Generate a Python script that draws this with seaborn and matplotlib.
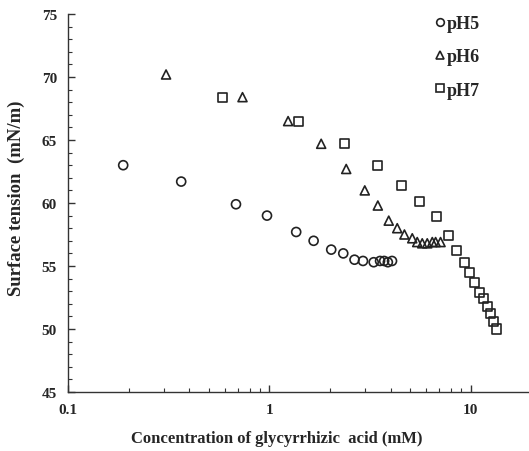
import numpy as np
import pandas as pd
import matplotlib
matplotlib.use("Agg")
import matplotlib.pyplot as plt
import seaborn as sns
from matplotlib.ticker import FixedLocator, FixedFormatter, LogLocator, NullFormatter, MultipleLocator

# ---- data ----
series_labels = ["pH5", "pH6", "pH7"]

ph5_x = [0.188, 0.365, 0.683, 0.974, 1.36, 1.66, 2.03, 2.33, 2.65, 2.92, 3.30, 3.55, 3.72, 3.88, 4.07]
ph5_y = [63.0, 61.7, 59.9, 59.0, 57.7, 57.0, 56.3, 56.0, 55.5, 55.4, 55.3, 55.4, 55.4, 55.3, 55.4]

ph6_x = [0.307, 0.736, 1.24, 1.81, 2.41, 2.98, 3.46, 3.92, 4.32, 4.69, 5.13, 5.43, 5.75, 6.09, 6.45, 6.70, 7.09]
ph6_y = [70.2, 68.4, 66.5, 64.7, 62.7, 61.0, 59.8, 58.6, 58.0, 57.5, 57.2, 56.9, 56.8, 56.8, 56.9, 56.9, 56.9]

ph7_x = [0.586, 1.40, 2.37, 3.43, 4.52, 5.59, 6.75, 7.74, 8.51, 9.33, 9.92, 10.5, 11.1, 11.6, 12.2, 12.6, 13.0, 13.4]
ph7_y = [68.4, 66.5, 64.7, 63.0, 61.4, 60.1, 58.9, 57.4, 56.2, 55.3, 54.5, 53.7, 52.9, 52.4, 51.8, 51.2, 50.6, 50.0]

x_tick_values = [0.1, 1, 10]
x_tick_labels = ["0.1", "1", "10"]
y_tick_values = [45, 50, 55, 60, 65, 70, 75]

df = pd.concat([
    pd.DataFrame({"conc": ph5_x, "st": ph5_y, "pH": series_labels[0]}),
    pd.DataFrame({"conc": ph6_x, "st": ph6_y, "pH": series_labels[1]}),
    pd.DataFrame({"conc": ph7_x, "st": ph7_y, "pH": series_labels[2]}),
], ignore_index=True)

sns.set_style("ticks")
plt.rcParams["font.family"] = ["Liberation Serif", "DejaVu Serif"]
plt.rcParams["font.weight"] = "bold"

fig = plt.figure(figsize=(5.29, 4.52), dpi=100)
ax = fig.add_axes([68/529, 59/452, 1 - 68/529, (393 - 15)/452])

sns.scatterplot(
    data=df, x="conc", y="st", style="pH",
    markers={"pH5": "o", "pH6": "^", "pH7": "s"},
    color="none", edgecolor="#222222", linewidth=1.2, s=42, ax=ax, legend=True,
)
for coll in ax.collections:
    coll.set_facecolor("none")
    coll.set_edgecolor("#222222")
    coll.set_linewidth(1.2)

ax.set_xscale("log")
ax.set_xlim(0.1, 19.5)
ax.set_ylim(45, 75)

ax.xaxis.set_major_locator(FixedLocator(x_tick_values))
ax.xaxis.set_major_formatter(FixedFormatter(x_tick_labels))
ax.xaxis.set_minor_locator(LogLocator(base=10, subs=np.arange(2, 10)))
ax.xaxis.set_minor_formatter(NullFormatter())
ax.yaxis.set_major_locator(FixedLocator(y_tick_values))
ax.yaxis.set_minor_locator(MultipleLocator(1))

ax.tick_params(which="major", direction="in", length=5, width=1, color="#333333",
               labelsize=11, pad=8)
ax.tick_params(which="minor", direction="in", length=3, width=0.8, color="#333333")
for lab in ax.get_xticklabels() + ax.get_yticklabels():
    lab.set_fontweight("bold")

for side in ["top", "right"]:
    ax.spines[side].set_visible(False)
for side in ["left", "bottom"]:
    ax.spines[side].set_color("#333333")
    ax.spines[side].set_linewidth(1.0)

ax.set_xlabel("Concentration of glycyrrhizic  acid (mM)", fontsize=12, fontweight="bold", labelpad=10)
ax.xaxis.label.set_x((277 - 68) / 461)
ax.set_ylabel("Surface tension  (mN/m)", fontsize=13.5, fontweight="bold", labelpad=12)
ax.yaxis.label.set_y((393 - 198.5) / 378)

handles, labels = ax.get_legend_handles_labels()
for h in handles:
    try:
        h.set_markerfacecolor("none")
        h.set_markeredgecolor("#222222")
        h.set_markeredgewidth(1.2)
        h.set_markersize(5.5)
    except Exception:
        pass
leg = ax.legend(handles, labels, loc="upper left",
                frameon=False, handletextpad=-0.1, labelspacing=0.9, handlelength=0.9,
                borderaxespad=0, borderpad=0,
                prop={"family": "Liberation Serif", "weight": "bold", "size": 13})
leg.set_bbox_to_anchor((432/529, (452 - 16)/452), transform=fig.transFigure)

fig.savefig("out.png", dpi=100)
